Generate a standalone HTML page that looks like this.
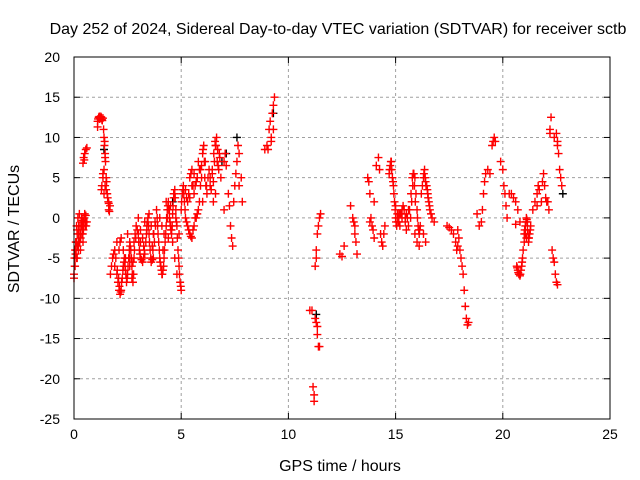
<!DOCTYPE html>
<html><head><meta charset="utf-8"><style>
body{margin:0;background:#fff;}
svg{display:block;font-family:"Liberation Sans",sans-serif;}
</style></head><body>
<svg id="chart" width="640" height="480" xmlns="http://www.w3.org/2000/svg">
<rect width="640" height="480" fill="#fff"/>
<text x="338" y="34" font-size="16" text-anchor="middle">Day 252 of 2024, Sidereal Day-to-day VTEC variation (SDTVAR) for receiver sctb</text>
<text x="340" y="471" font-size="16" text-anchor="middle">GPS time / hours</text>
<text transform="translate(19,229) rotate(-90)" font-size="16" text-anchor="middle">SDTVAR / TECUs</text>
<g id="grid"></g>
<g id="axes"></g>
<g id="marks-black"></g>
<g id="marks"></g>
<rect x="74" y="57" width="536" height="362" fill="none" stroke="#000" stroke-width="1"/>
</svg>
<script>
const xTicks=[0,5,10,15,20,25];
const yTicks=[20,15,10,5,0,-5,-10,-15,-20,-25];
const times=[0,0.02,0.05,0.08,0.1,0.12,0.15,0.18,0.2,0.22,0.25,0.28,0.3,0.32,0.35,0.38,0.4,0.42,0.45,0.5,0.52,0.55,0.6,0,0.05,0.15,0.25,
0.42,0.45,0.5,0.55,0.6,0.48,
1.1,1.15,1.2,1.25,1.3,1.35,1.1,1.4,1.42,1.45,1.4,1.35,1.3,1.28,1.4,1.45,1.5,1.55,1.6,1.62,1.68,1.65,1.5,1.35,1.45,
1.7,1.8,1.85,1.9,2,2.05,2.1,2.15,2.2,2.25,2.3,2.35,2.4,2.45,2.5,2.55,2.6,2.65,2.7,2.75,2.8,2.85,2.9,2,2.1,2.2,2.3,2.5,2.6,2.7,2.8,
3,3.05,3.1,3.2,3.3,3.35,3.4,3.45,3.5,3.55,3.6,3.7,3.75,3.8,3,3.1,3.2,3.3,3.5,3.6,3.7,
3.85,3.9,3.95,4,4.05,4.1,4.15,4.2,4.25,4.3,4.35,4.4,4.45,4.5,4.55,4.6,4.65,4.7,4.75,4.8,4.85,4.9,4.95,5,4,4.1,4.2,4.3,4.4,4.5,4.6,4.7,4.8,4.9,
5,5.05,5.1,5.15,5.2,5.3,5.4,5.5,5.6,5.7,5.8,5.2,5.3,5.4,5.5,5.6,5.7,5.8,5.9,6,6.05,6.1,6.2,6,5.9,5.6,5.5,5.4,
6.3,6.4,6.5,6.55,6.6,6.65,6.7,6.75,6.8,6.85,6.5,6.6,
7,7.05,7.1,7.2,7.25,7.3,7.35,7.4,7,7.45,7.5,7.6,7.65,7.7,7.8,7.85,7.55,7.7,
8.9,9,9.05,9.1,9.15,9.2,9.25,9.3,9.35,9.2,9.3,
11,11.1,11.15,11.2,11.2,11.25,11.3,11.35,11.35,11.4,11.45,11.25,11.3,11.35,11.4,11.45,11.5,11.3,
12.4,12.5,12.6,
12.9,13,13.05,13.1,13.15,13.2,13.1,
13.7,13.75,13.8,13.85,13.9,13.95,14,13.8,14,
14.1,14.2,14.25,14.3,14.35,14.4,14.45,14.5,
14.7,14.75,14.8,14.85,14.9,14.95,15,15.05,15.1,15.2,15.3,15.4,15.5,15.6,15.7,15.75,15.8,15.85,15.9,15.95,16,16.05,16.1,16.15,16.2,16.3,16.35,16.4,16.45,16.5,16.55,16.6,16.7,16.8,15,15.2,15.5,15.6,15.9,16,16.1,16.3,16.4,
17.4,17.5,17.6,17.7,17.8,17.85,17.9,17.95,18,18.05,18.1,18.15,18.2,18.25,18.3,18.35,18.4,17.9,
18.8,18.9,19,19.05,19.1,19.15,19.2,19.3,19.4,19.5,19.55,19.6,19.65,
19.9,20,20.05,20.1,20.15,20.2,20.3,20.4,20.5,20.6,20.7,20.8,20.6,
20.65,20.7,20.75,20.8,20.85,20.9,20.95,21,21.05,21.1,21.15,21.2,21.25,21.3,21,21.1,
21.4,21.5,21.6,21.65,21.7,21.8,21.85,21.9,21.95,22,22.05,21.6,
22.1,22.15,22.2,22.25,22.2,22.3,22.35,22.4,22.45,22.5,22.55,22.4,22.5,22.55,22.6,22.65,22.7,22.75,22.55];
const values=[-7,-5,-6,-3,-4,-1,-2,0,-3,-1,0.5,-2,-4,-1,0,-2,-1,-3,-0.5,0.5,-1,0.3,-0.5,-7.5,-4,-5,-3,
6.8,7.5,8,8.5,8.7,7.2,
12,12.5,12.3,12.6,12.2,12.4,11.3,10,9,8,6,5,4,3.5,3,4,5,3,2,1,1.5,0.8,3.5,5.5,7.5,
-7,-5,-4.5,-6,-7,-8,-9,-9.5,-9,-7.5,-6,-5,-6.5,-8,-7,-5,-3,-4,-6,-8,-5,-2,-1,-3,-4,-2.5,-4,-2,-6,-7.5,-3,
-2,-4,-5,-5.5,-4.5,-3,-1,0,-2,-4,-5.5,-5,-3,-1,0,-1.5,-2.5,-0.5,0.5,-1,-2,
1,-1,-3,-5,-6,-7,-6.5,-5,-3,-1,1,2,0,-1,-2,0.5,2.5,3.5,1,-1,-4,-6,-8,-9,0,-1,-2,2,-2.5,1.5,-3,-5,-7,-2,
1,3,4,2,0,-1,-2,-2.5,-1,0,1,3.5,2,5,6,3,4.5,7,6,8,9,5,3,2,4,5.5,4,2.5,
6,3.5,4.5,7,9,10,8.5,6,7.5,5,2,3,
7,8,6.5,3,1.5,-1,-2.5,-3.5,1,2,4,7,9,8,5,2,5.5,4,
8.5,9,8.5,11,12,10,13,14,15,9.5,11,
-11.5,-11.5,-21,-22,-22.8,-12.5,-13,-13.5,-14.5,-16,-16,-6,-4,-2,-1,0,0.5,-5,
-4.5,-4.8,-3.5,
1.5,0,-0.5,-2,-3,-4.5,-1,
5,4.5,3,0,-1,-1.5,-2.5,-0.5,2,
6.5,7.5,6,-2,-3,-3.5,-2,-1,
5.5,6.5,7,5,4,2,0,-1,0,-1,0,1,0.5,-1,0,2,4,5.5,5,3,1,-1,-2,-1,3,5,6,4.5,4,3,2,1,0,-0.5,1.5,0.5,-1.5,1,-2,-3,-3.5,-2,-3,
-1,-1.2,-1.5,-2,-3,-4,-3.5,-2.5,-4,-5,-6,-7,-9,-11,-12.5,-13.3,-13,-1.5,
0.5,-1,-0.5,1,3,4.5,5.5,6,5.5,9,9.5,10,9.5,
7,6,4,3,1.5,0,3,3,2.5,2,1,-0.5,-0.8,
-6,-6.5,-7,-7.2,-6.5,-5.5,-4,-2,-1,0,-0.5,-3,-2,-1,-3,-2.5,
1,2,3,4,3.5,2,4.5,5.5,4,2.5,2,1.5,
2,1,10.5,12.5,11,-4,-5,-5.5,-7,-8,-8.3,10,10.5,9,8,6,5,4,9.5];
const extraTimes=[0.03,0.07,0.11,0.14,0.17,0.21,0.24,0.27,0.31,0.34,0.37,0.41,0.44,0.47,0.53,0.57,0.1,0.2,0.3,0.4,
1.12,1.18,1.22,1.28,1.32,1.38,1.43,1.47,1.52,1.57,1.62,
1.75,1.95,2.02,2.08,2.12,2.18,2.22,2.28,2.33,2.38,2.42,2.48,2.52,2.58,2.62,2.68,2.72,2.78,2.82,2.88,2.95,1.9,2.15,2.4,2.6,2.75,
3.02,3.08,3.15,3.25,3.28,3.38,3.42,3.48,3.52,3.58,3.65,3.68,3.72,3.78,3.1,3.25,3.4,3.65,
3.88,3.92,3.98,4.02,4.08,4.12,4.18,4.22,4.28,4.32,4.38,4.42,4.48,4.52,4.58,4.62,4.68,4.72,4.78,4.82,4.88,4.92,4.98,4.15,4.35,4.55,4.75,4.45,4.65,
5.02,5.08,5.12,5.18,5.25,5.35,5.45,5.55,5.65,5.75,5.85,5.95,6.02,6.08,6.15,5.25,5.35,5.45,5.55,5.65,5.75,5.85,5.95,6.12,6.18,
6.25,6.35,6.45,6.52,6.58,6.62,6.68,6.72,6.78,6.35,6.45,
14.72,14.78,14.82,14.88,14.92,14.98,15.02,15.08,15.12,15.15,15.25,15.35,15.45,15.55,15.65,15.72,15.78,15.82,15.88,15.92,16.02,16.08,16.12,16.25,16.32,16.38,16.42,16.48,16.52,16.58,16.65,15.15,15.3,15.45,
20.67,20.72,20.78,20.82,20.88,20.92,21.02,21.08,21.12,21.18,21.22,21.28,21.05,21.15,21.2];
const extraValues=[-6,-4.5,-3,-1.5,-3.5,-2,-1,-3,-2.5,-0.5,-1,-2,-1.5,0,-0.5,-1,-5,-4,-2,-0.3,
12.3,12.6,12.4,12.5,12.1,11,9.5,7,4.5,2.5,1.8,
-6,-5,-6.5,-7.5,-8.5,-9.2,-8,-6.5,-5.5,-6,-7,-7.5,-6,-4,-3.5,-5,-7,-7,-4,-2.5,-1.5,-4,-3,-5,-5,-5.5,
-3,-4.5,-5.2,-5,-4,-2,-0.5,-1,-3,-5,-5.2,-4,-2,-0.5,-3,-3.5,-1.5,-3.5,
0,-2,-4,-5.5,-6.5,-7,-6,-4,-2,0,1.5,1,-0.5,-1.5,-1,1.5,3,2.5,-0.5,-2.5,-5,-7,-8.5,-4,0,-1.5,0,1,3,
2,3.5,3,1,-0.5,-1.5,-2.3,-1.5,0,0.5,2,5,8.5,7,4,2.5,3,5.5,4,4,5,6,6.5,7,4,
5,4,5.5,8,9.5,9,7,6.5,8,5,6,
6,7,6,4.5,3,1,-0.5,0.5,-0.5,0.5,0.5,1.5,0,0,1,3,5,5.5,4,2,0,-1.5,-1.5,4,5.5,5,4,3.5,2.5,1.5,0.5,-0.5,1,-0.5,
-6.2,-6.8,-7,-7,-6,-5,-1.5,-0.5,-0.2,-2,-2.5,-1.5,-2,-1.5,-2.5];
const blackTimes=[1.4,7.6,9.3,22.8,7.1,11.3,4.6,6.9];
const blackValues=[8.5,10,13,3,8,-12,2,7];
const X0=74,X1=610,Y0=419,Y1=57,XMIN=0,XMAX=25,YMIN=-25,YMAX=20;
function xs(t){return X0+(t-XMIN)/(XMAX-XMIN)*(X1-X0);}
function ys(v){return Y0-(v-YMIN)/(YMAX-YMIN)*(Y0-Y1);}
const NS="http://www.w3.org/2000/svg";
const grid=document.getElementById('grid'),axes=document.getElementById('axes');
function mk(tag,attrs,parent){const e=document.createElementNS(NS,tag);for(const k in attrs)e.setAttribute(k,attrs[k]);parent.appendChild(e);return e;}
xTicks.forEach(t=>{const x=xs(t);
 if(t>XMIN&&t<XMAX){const g=mk('line',{x1:x,x2:x,y1:Y1,y2:Y0,stroke:'#a0a0a0','stroke-dasharray':'3,3'},grid);
 
 }
 mk('line',{x1:x,x2:x,y1:Y0,y2:Y0-6,stroke:'#000'},axes);
 mk('line',{x1:x,x2:x,y1:Y1,y2:Y1+6,stroke:'#000'},axes);
 const l=mk('text',{x:x,y:Y0+20,'font-size':14,'text-anchor':'middle'},axes);l.textContent=t;
 
 });
yTicks.forEach(v=>{const y=ys(v);
 if(v>YMIN&&v<YMAX){const g=mk('line',{x1:X0,x2:X1,y1:y,y2:y,stroke:'#a0a0a0','stroke-dasharray':'3,3'},grid);
 
 }
 mk('line',{x1:X0,x2:X0+6,y1:y,y2:y,stroke:'#000'},axes);
 mk('line',{x1:X1,x2:X1-6,y1:y,y2:y,stroke:'#000'},axes);
 const l=mk('text',{x:X0-14,y:y+5,'font-size':14,'text-anchor':'end'},axes);l.textContent=v;
 
 });
function plus(t,v,color,parent){const x=xs(t),y=ys(v);
 const p=mk('path',{d:`M${x-4} ${y}H${x+4}M${x} ${y-4}V${y+4}`,stroke:color,'stroke-width':1.4,fill:'none'},parent);
 
 }
const bk=document.getElementById('marks-black');
blackTimes.forEach((t,i)=>plus(t,blackValues[i],'#000',bk));
const rd=document.getElementById('marks');
times.forEach((t,i)=>plus(t,values[i],'#ff0000',rd));
extraTimes.forEach((t,i)=>plus(t,extraValues[i],'#ff0000',rd));
</script>
</body></html>
